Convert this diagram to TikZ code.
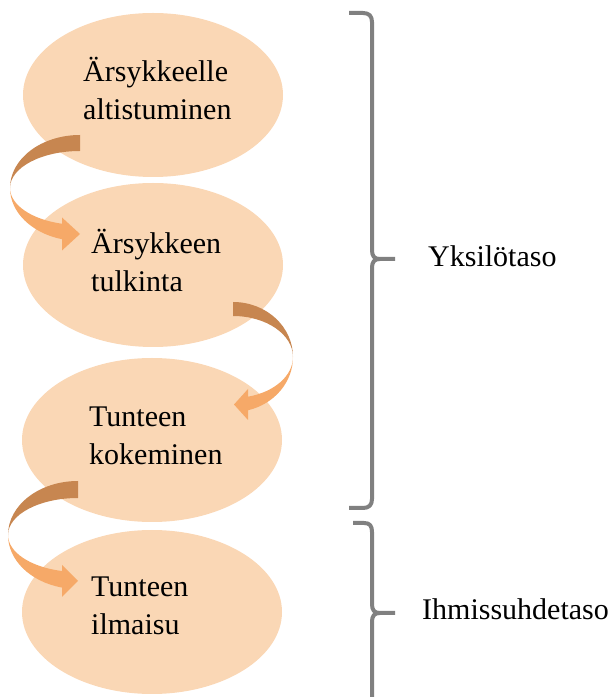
\documentclass[tikz,border=0pt]{standalone}
\usepackage{fontspec}
\setmainfont{Liberation Serif}
\usetikzlibrary{shapes.geometric}

\definecolor{peach}{RGB}{250,215,181}
\definecolor{arrowback}{RGB}{199,134,80}
\definecolor{arrowfront}{RGB}{246,169,104}
\definecolor{bracegray}{RGB}{128,128,128}

% Crescent-shaped bent arrow, drawn around its centre, bending on the left.
% #1 placement, #2 x radius, #3 outer y radius, #4 inner y radius,
% #5 x of head base, #6 y of head axis, #7 head half width, #8 head length
\newcommand{\bentarrow}[8]{%
  \begin{scope}[#1]
    \pgfmathsetmacro{\endang}{360-acos((#5)/(#2))}
    \fill[arrowback] (0,#3)
      arc[start angle=90,end angle=180,x radius=#2,y radius=#3]
      arc[start angle=180,end angle=90,x radius=#2,y radius=#4] -- cycle;
    \fill[arrowfront] (-#2,0)
      arc[start angle=180,end angle=\endang,x radius=#2,y radius=#3]
      -- ({#2*cos(\endang)},{#4*sin(\endang)})
      arc[start angle=\endang,end angle=180,x radius=#2,y radius=#4] -- cycle
      (#5,{#6+#7}) -- ({#5+#8},#6) -- (#5,{#6-#7}) -- cycle;
  \end{scope}}

\begin{document}
\begin{tikzpicture}[x=1pt,y=1pt,
  blob/.style={ellipse,fill=peach,draw=none,minimum width=260pt,minimum height=164pt,inner sep=0pt},
  lbl/.style={anchor=base west,align=left,inner sep=0pt,font=\fontsize{30}{38.5}\selectfont},
  side/.style={anchor=base west,inner sep=0pt,font=\fontsize{30}{36}\selectfont},
  brace/.style={draw=bracegray,line width=4pt,line join=round}]
\path[use as bounding box,clip] (0,0) rectangle (611,697);

% stages
\node[blob] (e1) at (153,602) {};
\node[blob] (e2) at (153,432) {};
\node[blob] (e3) at (152,257) {};
\node[blob] (e4) at (152,85) {};

% labels are placed by the baseline of their last line
\node[lbl] (t1) at (83,577) {Ärsykkeelle\\altistuminen};
\node[lbl] (t2) at (91,405) {Ärsykkeen\\tulkinta};
\node[lbl] (t3) at (89,232) {Tunteen\\kokeminen};
\node[lbl] (t4) at (91,62) {Tunteen\\ilmaisu};

% bent arrows between the stages
\coordinate (c1) at (80,509);
\coordinate (c2) at (233,340);
\coordinate (c3) at (78,162);
\bentarrow{shift={(c1)}}{70}{53}{37}{-18}{-46}{16.5}{18}
\bentarrow{shift={(c2)},xscale=-1}{60}{55}{41}{-15}{-47.5}{15.5}{14}
\bentarrow{shift={(c3)}}{70}{54}{37}{-16}{-46}{16}{16}

% level braces
\draw[brace] (349,684) -- (363,684) .. controls (369,684) and (372,681) .. (372,675)
  -- (372,447) .. controls (372,441) and (374,438) .. (380,438) -- (395,438);
\draw[brace] (380,438) .. controls (374,438) and (372,435) .. (372,429)
  -- (372,198) .. controls (372,192) and (369,189) .. (363,189) -- (349,189);
\draw[brace] (353,174) -- (364,174) .. controls (370,174) and (372,171) .. (372,165)
  -- (372,93) .. controls (372,87) and (374,84) .. (380,84) -- (395,84);
\draw[brace] (380,84) .. controls (374,84) and (372,81) .. (372,75) -- (372,-8);

\node[side] (l1) at (428,430) {Yksilötaso};
\node[side] (l2) at (422,77) {Ihmissuhdetaso};
\end{tikzpicture}
\end{document}
